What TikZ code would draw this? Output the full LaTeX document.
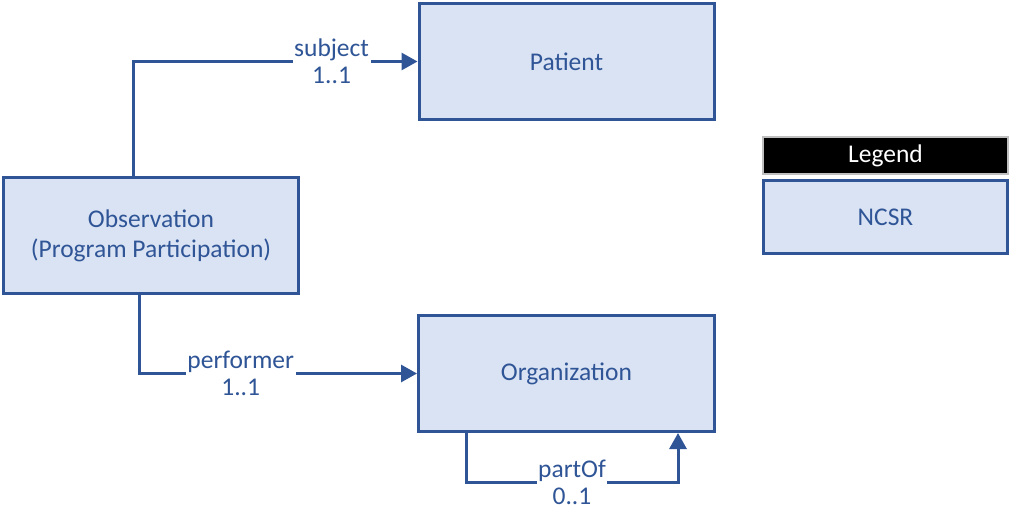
\documentclass[tikz,border=0pt]{standalone}
\usepackage{fontspec}
\setmainfont{Carlito}
\usetikzlibrary{arrows.meta}
\definecolor{bordblue}{HTML}{2F5597}
\definecolor{fillblue}{HTML}{DAE3F3}
\definecolor{legendgray}{HTML}{BFBFBF}
\tikzset{
  classbox/.style={draw=bordblue, fill=fillblue, line width=3pt, text=bordblue,
    minimum width=295pt, minimum height=116pt, align=center, inner sep=0pt,
    font=\fontsize{25.5}{30}\selectfont},
  conn/.style={draw=bordblue, line width=3pt, -{Triangle[length=16pt,width=17pt]}},
  lbl/.style={fill=white, text=bordblue, align=center, inner sep=1.5pt,
    font=\fontsize{25.5}{27}\selectfont},
}
\begin{document}
\begin{tikzpicture}[x=1pt,y=-1pt]
\useasboundingbox (0,0) rectangle (1012,522);
\node[classbox] (pat) at (566.5,61.5) {Patient};
\node[classbox] (obs) at (151,235.5) {Observation\\(Program Participation)};
\node[classbox, minimum width=296pt] (org) at (566.5,373.5) {Organization};
\node[draw=legendgray, fill=black, line width=2pt, text=white, minimum width=245pt,
  minimum height=37pt, inner sep=0pt, font=\fontsize{25.5}{30}\selectfont] (leg) at (885.5,155.5) {Legend};
\node[classbox, minimum width=244pt, minimum height=73pt] (ncsr) at (885.5,217) {NCSR};
\draw[conn] ([xshift=-18pt]obs.north) |- node[lbl, pos=0.849] {subject\\1..1} (pat.west);
\draw[conn] ([xshift=-12pt]obs.south) |- node[lbl, pos=0.683] {performer\\1..1} (org.west);
\coordinate (pcorner) at (678,482);
\draw[conn] ([xshift=-100.5pt]org.south) |- node[lbl, pos=0.75] {partOf\\0..1} (pcorner) -- ([xshift=111.5pt]org.south);
\end{tikzpicture}
\end{document}
